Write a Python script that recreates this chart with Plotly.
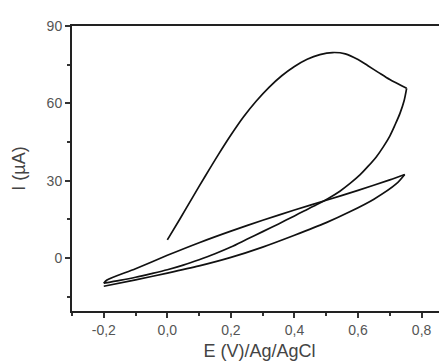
import plotly.graph_objects as go

# Cyclic voltammogram: potential E (V vs Ag/AgCl) and current I (uA)
# first anodic scan
E_scan1_fwd = [0.00, 0.04, 0.08, 0.12, 0.16, 0.20, 0.24, 0.28, 0.32, 0.36, 0.40, 0.44, 0.48, 0.52, 0.56, 0.60, 0.63, 0.665, 0.70, 0.753]
I_scan1_fwd = [7.0, 15.2, 23.6, 31.9, 40.0, 47.7, 54.8, 60.9, 66.2, 70.7, 74.3, 77.1, 78.9, 79.7, 79.2, 77.0, 74.7, 71.9, 69.2, 65.8]

# first cathodic scan
E_scan1_rev = [0.753, 0.745, 0.732, 0.716, 0.700, 0.680, 0.658, 0.632, 0.606, 0.575, 0.543, 0.505, 0.469, 0.43, 0.40, 0.35, 0.30, 0.25, 0.20, 0.15, 0.10, 0.05, 0.00, -0.05, -0.10, -0.15, -0.20]
I_scan1_rev = [65.8, 61.0, 56.1, 51.5, 47.3, 43.2, 39.3, 35.6, 32.2, 28.9, 25.9, 23.0, 20.6, 18.2, 16.3, 13.2, 10.2, 7.2, 4.2, 1.6, -0.7, -2.8, -4.6, -6.1, -7.5, -8.7, -9.8]

# second anodic scan
E_scan2_fwd = [-0.20, -0.19, -0.10, 0.00, 0.10, 0.20, 0.30, 0.40, 0.50, 0.60, 0.70, 0.747]
I_scan2_fwd = [-9.8, -8.6, -4.2, 1.0, 5.9, 10.4, 14.6, 18.6, 22.4, 26.2, 30.3, 32.4]

# second cathodic scan
E_scan2_rev = [0.747, 0.72, 0.65, 0.574, 0.50, 0.40, 0.30, 0.20, 0.10, 0.00, -0.10, -0.20]
I_scan2_rev = [32.4, 28.7, 22.8, 17.9, 13.7, 8.8, 4.2, 0.2, -3.1, -5.9, -8.5, -11.0]

x_tickvals = [-0.2, 0.0, 0.2, 0.4, 0.6, 0.8]
x_ticktext = ["-0,2", "0,0", "0,2", "0,4", "0,6", "0,8"]
y_tickvals = [0, 30, 60, 90]
y_ticktext = ["0", "30", "60", "90"]

segments = [
    (E_scan1_fwd, I_scan1_fwd),
    (E_scan1_rev, I_scan1_rev),
    (E_scan2_fwd, I_scan2_fwd),
    (E_scan2_rev, I_scan2_rev),
]

fig = go.Figure()
for ex, iy in segments:
    fig.add_trace(go.Scatter(
        x=ex, y=iy, mode="lines",
        line=dict(color="#111111", width=1.7, shape="spline", smoothing=0.8),
        showlegend=False, hoverinfo="skip",
    ))

family = "Liberation Sans, Arial, sans-serif"
tick_font = dict(family=family, size=14, color="#555555")
title_font = dict(family=family, size=18, color="#444444")

# The page body has an 8px margin, so the figure is offset by 8px; sizes compensate.
fig.update_layout(
    width=439, height=355,
    margin=dict(l=64, r=0, t=18, b=52),
    paper_bgcolor="white", plot_bgcolor="white",
    font=dict(family=family, size=14, color="#555555"),
    xaxis=dict(
        range=[-0.3, 0.88], showgrid=False, zeroline=False,
        showline=True, linecolor="#222222", linewidth=2, mirror=True,
        ticks="outside", ticklen=5, tickwidth=1.5, tickcolor="#333333",
        tickvals=x_tickvals, ticktext=x_ticktext,
        minor=dict(ticks="outside", ticklen=3, tickwidth=1.5, tickcolor="#333333", dtick=0.1, tick0=-0.3, showgrid=False),
        title=dict(text="E (V)/Ag/AgCl", standoff=8, font=title_font),
        tickfont=tick_font,
    ),
    yaxis=dict(
        range=[-20.6, 90], showgrid=False, zeroline=False,
        showline=True, linecolor="#222222", linewidth=2, mirror=False,
        ticks="outside", ticklen=5, tickwidth=1.5, tickcolor="#333333",
        tickvals=y_tickvals, ticktext=y_ticktext,
        minor=dict(ticks="outside", ticklen=3, tickwidth=1.5, tickcolor="#333333", dtick=15, tick0=-15, showgrid=False),
        title=dict(text="I (µA)", standoff=16, font=title_font),
        tickfont=tick_font,
    ),
)

fig.write_html("out.html")
